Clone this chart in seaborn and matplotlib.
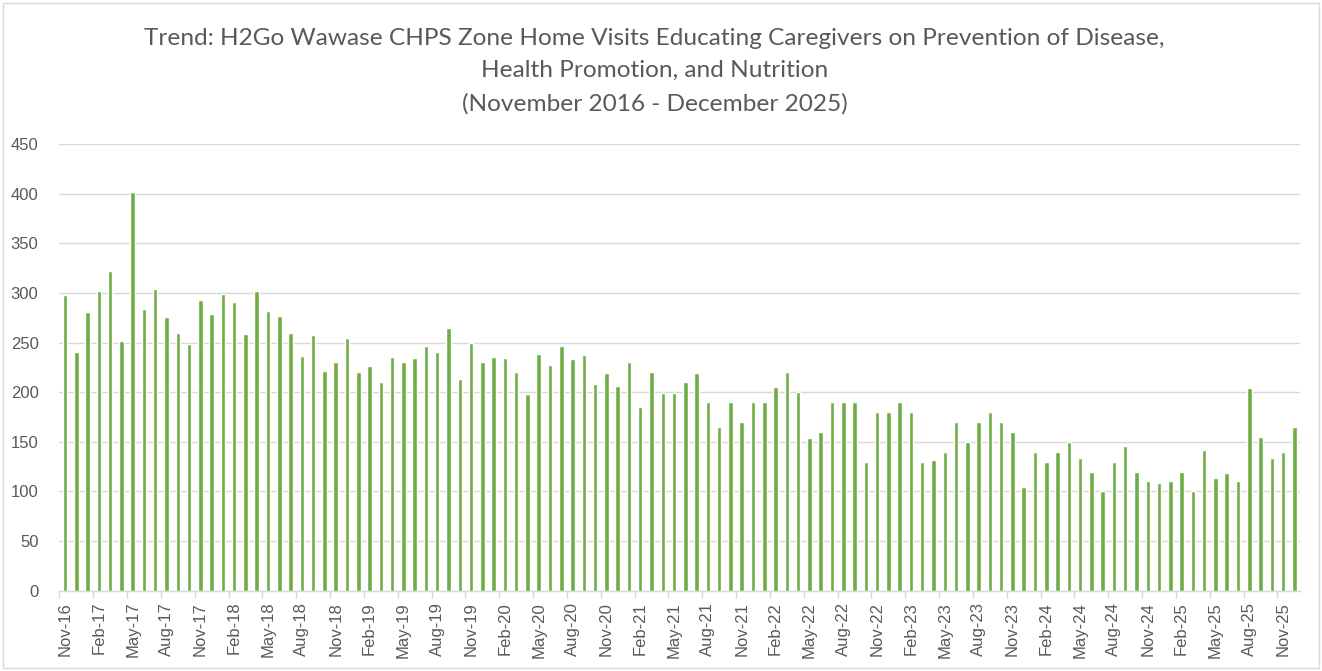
import numpy as np
import pandas as pd
import matplotlib
matplotlib.use("Agg")
import matplotlib.pyplot as plt
import seaborn as sns
from matplotlib.patches import Rectangle

# -------------------------
# DATA
# -------------------------
TITLE_LINES = [
    "Trend: H2Go Wawase CHPS Zone Home Visits Educating Caregivers on Prevention of Disease,",
    "Health Promotion, and Nutrition",
    "(November 2016 - December 2025)",
]

# monthly categories Nov-16 .. Dec-25
months = pd.date_range("2016-11-01", "2025-12-01", freq="MS").strftime("%b-%y").tolist()

visits_2016_18 = [298, 240, 281, 302, 322, 252, 402, 284, 304, 276, 260, 249, 293, 279, 299, 291, 259, 302, 282]
visits_2018_19 = [277, 260, 236, 258, 221, 230, 255, 220, 226, 210, 235, 230, 234, 246, 240, 265, 213, 250, 230]
visits_2020_21 = [235, 234, 220, 198, 238, 227, 246, 233, 237, 208, 219, 206, 230, 185, 220, 199, 199, 210, 219, 190]
visits_2021_23 = [165, 190, 170, 190, 190, 205, 220, 200, 154, 160, 190, 190, 190, 130, 180, 180, 190, 180, 130]
visits_2023_24 = [132, 140, 170, 150, 170, 180, 170, 160, 104, 140, 130, 140, 150, 134, 120, 100, 130]
visits_2024_25 = [146, 120, 110, 108, 110, 120, 100, 142, 114, 119, 110, 204, 155, 134, 140, 165]

visits = visits_2016_18 + visits_2018_19 + visits_2020_21 + visits_2021_23 + visits_2023_24 + visits_2024_25

y_ticks = [0, 50, 100, 150, 200, 250, 300, 350, 400, 450]

# -------------------------
# STYLE
# -------------------------
BAR_COLOR = "#70AD47"
TEXT_COLOR = "#595959"
GRID_COLOR = "#D9D9D9"

sns.set_theme(style="white")
plt.rcParams["font.family"] = ["Liberation Sans", "DejaVu Sans"]

df = pd.DataFrame({"month": months, "visits": visits})

fig = plt.figure(figsize=(13.22, 6.71), dpi=100)
ax = fig.add_axes([0.0449, 0.1197, 0.9385, 0.6657])

sns.barplot(data=df, x="month", y="visits", order=months, color=BAR_COLOR,
            width=0.4, saturation=1, ax=ax, zorder=3)

# axes look (Excel style)
ax.set_ylim(0, 450)
ax.set_xlim(-0.5, len(months) - 0.5)
ax.set_yticks(y_ticks)
ax.yaxis.grid(True, color=GRID_COLOR, linewidth=1.0, zorder=0)
ax.set_axisbelow(True)
for side in ["top", "right", "left"]:
    ax.spines[side].set_visible(False)
ax.spines["bottom"].set_color(GRID_COLOR)
ax.spines["bottom"].set_linewidth(1.0)

# labels every 3 months, tick marks at category boundaries
pos = np.arange(0, len(months), 3)
ax.set_xticks(pos)
ax.set_xticklabels([months[i] for i in pos], rotation=90)
ax.set_xticks(pos - 0.5, minor=True)
ax.tick_params(axis="x", which="major", length=0, pad=8, labelsize=12, labelcolor=TEXT_COLOR)
ax.tick_params(axis="x", which="minor", length=5, width=1, color=GRID_COLOR, direction="out", bottom=True)
ax.tick_params(axis="y", length=0, pad=15, labelsize=12, labelcolor=TEXT_COLOR)
ax.set_xlabel("")
ax.set_ylabel("")

# title lines
for y, line in zip([0.943, 0.895, 0.846], TITLE_LINES):
    fig.text(0.495, y, line, ha="center", va="center", fontsize=17.6,
             color=TEXT_COLOR, family=["Lato", "DejaVu Sans"])

# chart frame
fig.patches.append(Rectangle((0.002, 0.004), 0.996, 0.992, transform=fig.transFigure,
                             fill=False, edgecolor=GRID_COLOR, linewidth=1.0))

fig.savefig("out.png", dpi=100)
